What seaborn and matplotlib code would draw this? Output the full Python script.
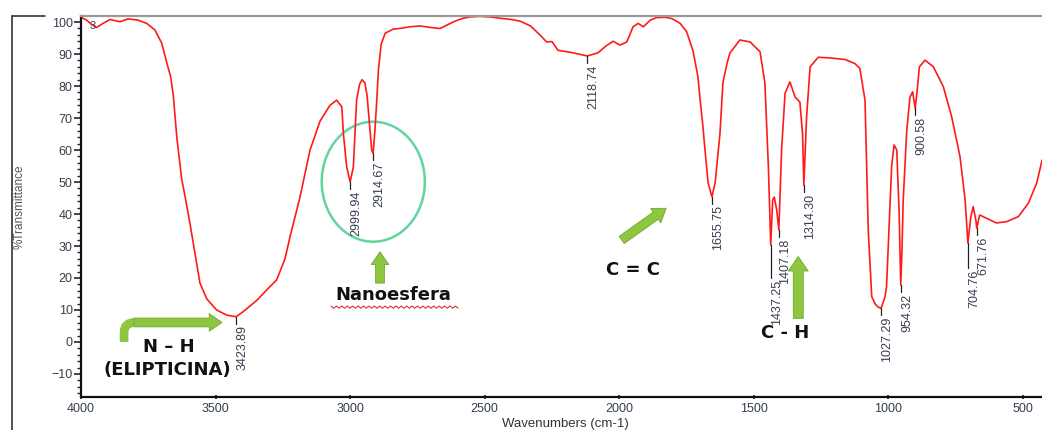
import numpy as np
import matplotlib
matplotlib.use("Agg")
import matplotlib.pyplot as plt
import seaborn as sns
from matplotlib.patches import FancyArrowPatch, Ellipse, PathPatch
from matplotlib.path import Path
from matplotlib.ticker import MultipleLocator
from matplotlib.lines import Line2D

# FTIR spectrum (cm-1, %T)
wavenumber = [
    4000, 3979, 3960, 3942, 3918, 3892, 3855, 3825, 3788, 3756, 3725, 3700,
    3682, 3667, 3657, 3644, 3626, 3610, 3595, 3575, 3558, 3533, 3496, 3459,
    3423.89, 3397, 3347, 3298, 3273, 3242, 3223, 3186, 3149, 3112, 3075, 3050,
    3031, 3025, 3013, 2999.94, 2988, 2982, 2976, 2965, 2956, 2945, 2937, 2928,
    2920, 2914.67, 2908, 2901, 2895, 2885, 2870, 2840, 2815, 2780, 2740, 2700,
    2666, 2630, 2610, 2580, 2555, 2520, 2480, 2443, 2400, 2369, 2330, 2295,
    2270, 2250, 2228, 2172, 2140, 2118.74, 2079, 2050, 2023, 1997, 1972, 1949,
    1930, 1911, 1885, 1861, 1830, 1805, 1774, 1750, 1726, 1708, 1700, 1690,
    1681.5, 1670, 1655.75, 1644, 1626, 1615, 1600, 1589, 1552, 1514, 1477,
    1459, 1446, 1437.25, 1430, 1424, 1415, 1407.18, 1397, 1384, 1366, 1347,
    1329, 1319, 1314.30, 1304, 1291, 1261, 1218, 1161, 1124, 1106, 1087, 1081,
    1075, 1062, 1050, 1040, 1027.29, 1013, 1007, 998, 988, 979, 969, 960, 957,
    954.32, 950, 945, 932, 920, 910, 900.58, 893, 885, 864, 833, 796, 765, 734,
    715, 704.76, 694, 685, 675, 671.76, 661, 636, 599, 561, 517, 480, 449, 429,
]
transmittance = [
    101.5, 100.6, 99.2, 98.3, 99.6, 100.8, 100.1, 101.0, 100.6, 99.6, 97.5, 93.4,
    87.5, 83.0, 77.0, 64.0, 51.0, 44.0, 37.0, 27.0, 18.4, 13.5, 10.0, 8.4,
    7.9, 9.5, 13.0, 17.3, 19.4, 26.0, 33.0, 45.4, 60.0, 69.0, 74.0, 75.6,
    73.5, 65.0, 54.8, 50.0, 54.8, 65.0, 75.6, 80.5, 82.0, 81.0, 77.0, 68.0,
    60.0, 59.0, 66.0, 75.6, 85.0, 93.0, 96.5, 97.8, 98.0, 98.5, 98.8, 98.3,
    98.0, 99.5, 100.3, 101.2, 101.6, 101.8, 101.6, 101.2, 100.8, 100.3, 98.8, 96.0,
    93.8, 93.9, 91.2, 90.4, 89.8, 89.4, 90.4, 92.5, 94.0, 92.8, 93.8, 98.5,
    99.6, 98.5, 100.6, 101.4, 101.5, 101.1, 99.6, 97.0, 91.0, 83.0, 76.0, 68.0,
    60.0, 49.7, 45.4, 49.7, 65.0, 81.0, 87.0, 90.3, 94.4, 93.8, 90.7,
    81.0, 54.7, 30.3, 44.4, 45.3, 41.2, 35.0, 60.0, 77.8, 81.3, 76.6,
    75.0, 65.0, 49.0, 70.4, 86.0, 89.0, 88.8, 88.3, 87.0, 85.5, 75.6, 54.8,
    35.0, 14.2, 12.0, 11.0, 10.5, 14.0, 17.3, 35.0, 55.0, 61.6, 60.0, 40.0, 28.0,
    17.8, 28.0, 44.4, 66.0, 76.5, 78.2, 73.0, 78.8, 86.0, 88.1, 86.0, 79.8, 70.4, 57.9,
    44.4, 30.9, 39.0, 42.3, 38.0, 35.6, 39.7, 38.7, 37.2, 37.6, 39.2, 43.4, 49.7, 56.9,
]

peak_wavenumbers = [3423.89, 2999.94, 2914.67, 2118.74, 1655.75, 1437.25, 1407.18,
                    1314.30, 1027.29, 954.32, 900.58, 704.76, 671.76]

x_ticks = [4000, 3500, 3000, 2500, 2000, 1500, 1000, 500]
y_ticks = list(range(-10, 101, 10))

GREEN = "#8dc63f"
GREEN_EDGE = "#74a532"
MINT = "#62d49e"
LABEL_COLOR = "#353f4f"

sns.set_style("ticks")
plt.rcParams["font.family"] = ["Liberation Sans", "DejaVu Sans"]

fig = plt.figure(figsize=(10.42, 4.30), dpi=100)
ax = fig.add_axes([81 / 1042, 33 / 430, 961 / 1042, 381 / 430])

sns.lineplot(x=wavenumber, y=transmittance, ax=ax, color="#ff1a1a", linewidth=1.2)

ax.set_xlim(4000, 429.4)
ax.set_ylim(-17.2, 101.9)
ax.set_xticks(x_ticks)
ax.set_yticks(y_ticks)
ax.yaxis.set_minor_locator(MultipleLocator(2))
ax.tick_params(axis="x", direction="inout", length=3, width=1.2, pad=3,
               labelsize=9, labelcolor=LABEL_COLOR)
ax.tick_params(axis="y", which="major", length=5, width=1.2, pad=1,
               labelsize=9, labelcolor=LABEL_COLOR)
ax.tick_params(axis="y", which="minor", length=3, width=1.0)

ax.spines["right"].set_visible(False)
ax.spines["top"].set_color("#9a9a9a")
ax.spines["top"].set_linewidth(1.6)
for side in ("left", "bottom"):
    ax.spines[side].set_color("#111111")
    ax.spines[side].set_linewidth(1.6)

ax.set_xlabel("Wavenumbers (cm-1)", fontsize=9.5, color="#333333")
ax.xaxis.set_label_coords(0.504, -0.055)
ax.set_ylabel("%Transmittance", fontsize=8.5, color="#555555")
ax.yaxis.set_label_coords(-0.058, 0.5)

ax.text(0.009, 0.987, "3", transform=ax.transAxes, fontsize=8,
        color=LABEL_COLOR, ha="left", va="top")

# peak markers and rotated labels
wn_asc = np.array(wavenumber)[::-1]
t_asc = np.array(transmittance)[::-1]
long_lines = {1437.25: 10.3, 704.76: 7.8}
for p in peak_wavenumbers:
    t_peak = np.interp(p, wn_asc, t_asc)
    t_end = t_peak - long_lines.get(p, 2.2)
    ax.plot([p, p], [t_peak, t_end], color="#222222", lw=0.9)
    ax.annotate(f"{p:.2f}", (p, t_end), xytext=(4.5, -1), textcoords="offset points",
                rotation=90, ha="center", va="top", fontsize=9, color=LABEL_COLOR)

# group annotations
ax.add_patch(Ellipse((2914, 50.1), width=383, height=37.5, fill=False,
                     edgecolor=MINT, lw=1.8))


def block_arrow(start, end, scale=11.5):
    arrow = FancyArrowPatch(start, end, mutation_scale=scale,
                            arrowstyle="simple,head_width=1.1,head_length=0.8,tail_width=0.55",
                            fc=GREEN, ec=GREEN_EDGE, lw=0.6, shrinkA=0, shrinkB=0)
    ax.add_patch(arrow)


block_arrow((2889, 18.4), (2889, 28.2))
block_arrow((1991, 31.9), (1826, 41.8))
block_arrow((1335, 7.4), (1335, 26.7), scale=13)

# bent arrow for N-H
bend = Path([(3840, 0.0), (3840, 3.0), (3840, 6.1), (3800, 6.1)],
            [Path.MOVETO, Path.LINETO, Path.CURVE3, Path.CURVE3])
ax.add_patch(PathPatch(bend, fill=False, edgecolor=GREEN, lw=6.3, capstyle="butt"))
block_arrow((3803, 6.1), (3476, 6.1))

bold = dict(fontsize=13, fontweight="bold", family="DejaVu Sans",
            color="#111111", ha="center", va="center")
ax.text(3675, -1.6, "N \u2013 H", **bold)
ax.text(3679, -8.75, "(ELIPTICINA)", **bold)
ax.text(2841, 14.7, "Nanoesfera", **bold)
ax.text(1949, 22.5, "C = C", **bold)
ax.text(1384, 2.7, "C - H", **bold)

# spell-check squiggle under "Nanoesfera"
squiggle_x = np.linspace(3071, 2599, 48)
squiggle_y = 10.9 + 0.35 * np.where(np.arange(48) % 2 == 0, 1, -1)
ax.plot(squiggle_x, squiggle_y, color="#e03030", lw=0.8)

# outer bracket at the left of the figure
fig.add_artist(Line2D([0.0112, 0.0112], [0.9628, 0.0], transform=fig.transFigure,
                      color="#333333", lw=1.2))
fig.add_artist(Line2D([0.0112, 0.0432], [0.9628, 0.9628], transform=fig.transFigure,
                      color="#333333", lw=1.2))

fig.savefig("out.png", dpi=100)
